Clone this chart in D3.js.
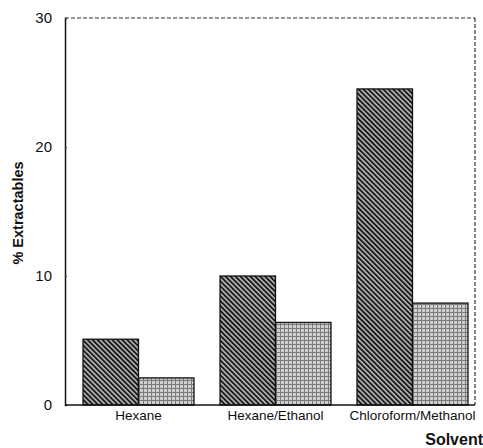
<!DOCTYPE html>
<html><head><meta charset="utf-8">
<script src="https://cdn.jsdelivr.net/npm/d3@7/dist/d3.min.js"></script>
<style>body{margin:0;background:#fff}svg{display:block}text{font-family:"Liberation Sans",Arial,sans-serif;fill:#111}</style>
</head><body><svg id="c" width="483" height="448"></svg>
<script>
const categories = ["Hexane", "Hexane/Ethanol", "Chloroform/Methanol"];
const seriesNames = ["A", "B"];
const seriesA = [5.1, 10.0, 24.5];
const seriesB = [2.1, 6.4, 7.9];
const yTicks = [0, 10, 20, 30];

const svg = d3.select("#c");
const defs = svg.append("defs");
// hatch pattern (dark)
const p1 = defs.append("pattern").attr("id","hatch").attr("patternUnits","userSpaceOnUse")
  .attr("width",3.5).attr("height",3.5).attr("patternTransform","rotate(-45)");
p1.append("rect").attr("width",3.5).attr("height",3.5).attr("fill","#b8b8b8");
p1.append("rect").attr("width",1.9).attr("height",3.5).attr("fill","#1a1a1a");
// grid pattern (light)
const p2 = defs.append("pattern").attr("id","grid").attr("patternUnits","userSpaceOnUse")
  .attr("width",4).attr("height",4);
p2.append("rect").attr("width",4).attr("height",4).attr("fill","#cfcfcf");
p2.append("rect").attr("x",0).attr("y",0).attr("width",1).attr("height",4).attr("fill","#7a7a7a");
p2.append("rect").attr("x",0).attr("y",0).attr("width",4).attr("height",1).attr("fill","#7a7a7a");
const fills = ["url(#hatch)", "url(#grid)"];

const mL = 65, mR = 475, mT = 18, mB = 405;
const y = d3.scaleLinear().domain([0, 30]).range([mB, mT]);
const x = d3.scaleBand().domain(categories).range([70, 481]).paddingInner(0.19).paddingOuter(0.095);
const xs = d3.scaleBand().domain(seriesNames).range([0, x.bandwidth()]);

const data = categories.map((c, i) => ({cat: c, vals: [seriesA[i], seriesB[i]]}));

// frame
svg.append("line").attr("x1",mL).attr("x2",mR).attr("y1",mT).attr("y2",mT)
  .attr("stroke","#333").attr("stroke-width",1.2).attr("stroke-dasharray","4,2");
svg.append("line").attr("x1",mR).attr("x2",mR).attr("y1",mT).attr("y2",mB)
  .attr("stroke","#333").attr("stroke-width",1.2).attr("stroke-dasharray","4,2");

// bars
const g = svg.append("g").selectAll("g").data(data).join("g")
  .attr("transform", d => `translate(${x(d.cat)},0)`);
g.selectAll("rect").data(d => d.vals.map((v, j) => ({v, s: seriesNames[j], j}))).join("rect")
  .attr("x", d => xs(d.s)).attr("width", xs.bandwidth())
  .attr("y", d => y(d.v)).attr("height", d => mB - y(d.v))
  .attr("fill", d => fills[d.j]).attr("stroke","#111").attr("stroke-width",1.3);

// y axis
const ya = svg.append("g").attr("transform",`translate(${mL},0)`)
  .call(d3.axisLeft(y).tickValues(yTicks).tickSize(-2).tickPadding(13).tickFormat(d3.format("d")));
ya.select(".domain").attr("stroke","#111").attr("stroke-width",1.5);
ya.selectAll(".tick line").attr("stroke","#333");
ya.selectAll("text").attr("font-size",15).attr("fill","#111").style("font-family","'Liberation Sans',Arial,sans-serif");

// x axis
const xa = svg.append("g").attr("transform",`translate(0,${mB})`)
  .call(d3.axisBottom(x).tickSize(0).tickPadding(5));
xa.select(".domain").attr("d", `M${mL},0H${mR}`).attr("stroke","#111").attr("stroke-width",1.5);
xa.selectAll("text").attr("font-size",13.5).attr("fill","#111").style("font-family","'Liberation Sans',Arial,sans-serif");

// titles
svg.append("text").attr("transform","translate(23,213) rotate(-90)").attr("text-anchor","middle")
  .attr("font-size",14.5).attr("font-weight","bold").text("% Extractables");
svg.append("text").attr("x",483).attr("y",445).attr("text-anchor","end")
  .attr("font-size",16).attr("font-weight","bold").text("Solvent");
</script></body></html>
